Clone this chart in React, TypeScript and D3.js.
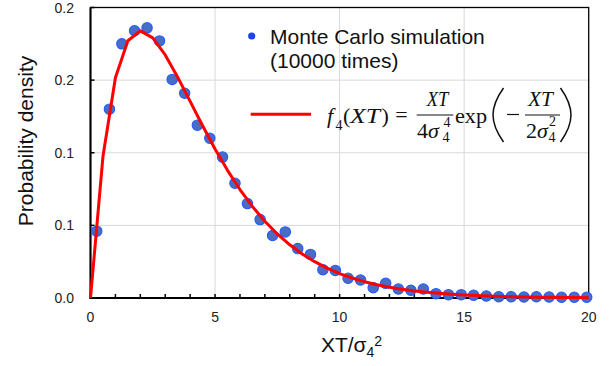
import React from "react";
import * as d3 from "d3";

const MC_X = [0.25, 0.76, 1.26, 1.77, 2.27, 2.77, 3.28, 3.78, 4.29, 4.79, 5.3, 5.8, 6.3, 6.81, 7.31, 7.82, 8.32, 8.83, 9.33, 9.83, 10.34, 10.84, 11.35, 11.85, 12.36, 12.86, 13.36, 13.87, 14.37, 14.88, 15.38, 15.89, 16.39, 16.89, 17.4, 17.9, 18.41, 18.91, 19.42, 19.92];
const MC_Y = [0.046, 0.13, 0.175, 0.184, 0.186, 0.177, 0.1505, 0.141, 0.119, 0.11, 0.097, 0.079, 0.065, 0.054, 0.043, 0.0455, 0.034, 0.03, 0.0195, 0.019, 0.0136, 0.0124, 0.0071, 0.0101, 0.0062, 0.0053, 0.0062, 0.003, 0.0023, 0.0023, 0.0019, 0.0014, 0.0009, 0.0009, 0.0007, 0.0009, 0.0007, 0.0005, 0.0005, 0.0005];

const FIT_X = [0, 0.5, 1, 1.5, 2, 2.5, 3, 3.5, 4, 4.5, 5, 5.5, 6, 6.5, 7, 7.5, 8, 8.5, 9, 9.5, 10, 10.5, 11, 11.5, 12, 12.5, 13, 13.5, 14, 14.5, 15, 15.5, 16, 16.5, 17, 17.5, 18, 18.5, 19, 19.5, 20];
const FIT_Y = [0, 0.09735, 0.15163, 0.17714, 0.18394, 0.17906, 0.16735, 0.15205, 0.13534, 0.11858, 0.10261, 0.0879, 0.07468, 0.06301, 0.05285, 0.0441, 0.03663, 0.03031, 0.025, 0.02055, 0.01684, 0.01377, 0.01124, 0.00915, 0.00744, 0.00603, 0.00489, 0.00395, 0.00319, 0.00257, 0.00207, 0.00167, 0.00134, 0.00108, 0.00086, 0.00069, 0.00056, 0.00044, 0.00036, 0.00028, 0.00023];

const X_TICKS = [0, 5, 10, 15, 20];
const X_TICK_LABELS = ["0", "5", "10", "15", "20"];
const X_MINOR = d3.range(0, 21, 1);
const Y_TICKS = [0, 0.05, 0.1, 0.15, 0.2];
const Y_TICK_LABELS = ["0.0", "0.1", "0.1", "0.2", "0.2"];

const SANS = "'Liberation Sans', Arial, sans-serif";
const SERIF = "'Liberation Serif', 'Times New Roman', serif";

export default function App() {
  const L = 90.5, R = 588.7, T = 7.5, B = 298;
  const x = d3.scaleLinear().domain([0, 20]).range([L, R]);
  const y = d3.scaleLinear().domain([0, 0.2]).range([B, T]);
  const line = d3.line<number>().x((_, i) => x(FIT_X[i])).y((d) => y(d));

  return (
    <svg width={615} height={366} style={{ position: "absolute", left: 0, top: 0, background: "#fff" }}>
      {/* gridlines */}
      {Y_TICKS.slice(1, -1).map((t) => (
        <line key={"gy" + t} x1={L} x2={R} y1={y(t)} y2={y(t)} stroke="#d9d9d9" strokeWidth={1} />
      ))}
      {X_TICKS.slice(1, -1).map((t) => (
        <line key={"gx" + t} x1={x(t)} x2={x(t)} y1={T} y2={B} stroke="#d9d9d9" strokeWidth={1} />
      ))}
      {/* frame */}
      <rect x={L} y={T} width={R - L} height={B - T} fill="none" stroke="#000" strokeWidth={1.3} />
      <line x1={L} x2={L} y1={T} y2={B + 1} stroke="#000" strokeWidth={2} />
      <line x1={L - 1} x2={R} y1={B} y2={B} stroke="#000" strokeWidth={2} />
      {/* ticks */}
      {X_MINOR.map((t) => (
        <line key={"tx" + t} x1={x(t)} x2={x(t)} y1={B} y2={B - 4} stroke="#000" strokeWidth={1.5} />
      ))}
      {Y_TICKS.map((t) => (
        <line key={"ty" + t} x1={L} x2={L + 4} y1={y(t)} y2={y(t)} stroke="#000" strokeWidth={1.5} />
      ))}
      {/* tick labels */}
      {Y_TICKS.map((t, i) => (
        <text key={"ly" + t} x={74} y={y(t) + 5} textAnchor="end" fontFamily={SANS} fontSize={14} fill="#222">
          {Y_TICK_LABELS[i]}
        </text>
      ))}
      {X_TICKS.map((t, i) => (
        <text key={"lx" + t} x={x(t)} y={321.5} textAnchor="middle" fontFamily={SANS} fontSize={14} fill="#222">
          {X_TICK_LABELS[i]}
        </text>
      ))}
      {/* markers */}
      {MC_Y.map((v, i) => (
        <circle key={"m" + i} cx={x(MC_X[i])} cy={y(v)} r={5.2} fill="#4a6cc2" stroke="#1f5cff" strokeWidth={1.1} />
      ))}
      {/* fit line */}
      <path d={line(FIT_Y) || ""} fill="none" stroke="#ff0000" strokeWidth={3} strokeLinejoin="round" />
      {/* axis titles */}
      <text transform="translate(33,141) rotate(-90)" textAnchor="middle" fontFamily={SANS} fontSize={21} fill="#111">
        Probability density
      </text>
      <text x={351.5} y={351.7} textAnchor="middle" fontFamily={SANS} fontSize={21} fill="#111">
        XT/σ
        <tspan fontSize={14} dy={5}>4</tspan>
        <tspan fontSize={14} dy={-11}>2</tspan>
      </text>
      {/* legend */}
      <circle cx={251.7} cy={36} r={3.6} fill="#1a44f0" />
      <text x={270} y={44.3} fontFamily={SANS} fontSize={21} fill="#111">Monte Carlo simulation</text>
      <text x={270} y={68.3} fontFamily={SANS} fontSize={21} fill="#111">(10000 times)</text>
      <line x1={250.7} x2={311} y1={114.3} y2={114.3} stroke="#ff0000" strokeWidth={3} />
      {/* formula */}
      <g fontFamily={SERIF} fill="#111">
        <text x={327} y={123.3} fontSize={22} fontStyle="italic">f</text>
        <text x={335.5} y={129.5} fontSize={14}>4</text>
        <text x={343} y={123.3} fontSize={22}>(</text>
        <text x={350} y={123.3} fontSize={22} fontStyle="italic" textLength={30} lengthAdjust="spacingAndGlyphs">XT</text>
        <text x={381.5} y={123.3} fontSize={22}>)</text>
        <text x={401.5} y={122} fontSize={22} textAnchor="middle">=</text>
        {/* fraction 1 */}
        <text x={426.7} y={106} fontSize={22} fontStyle="italic" textLength={21.6} lengthAdjust="spacingAndGlyphs">XT</text>
        <line x1={416.7} x2={453.3} y1={115} y2={115} stroke="#111" strokeWidth={1.1} />
        <text x={417} y={138.3} fontSize={22}>4</text>
        <text x={428} y={138.3} fontSize={22} fontStyle="italic">σ</text>
        <text x={443.5} y={127} fontSize={14}>4</text>
        <text x={442.5} y={141.5} fontSize={14}>4</text>
        <text x={455} y={123.3} fontSize={22} textLength={32} lengthAdjust="spacingAndGlyphs">exp</text>
        <path d="M503.5,88 C495,100 493,108 493,115 C493,122 495,130 503.5,142" fill="none" stroke="#111" strokeWidth={1.5} />
        <line x1={507} x2={519} y1={114.5} y2={114.5} stroke="#111" strokeWidth={1.2} />
        {/* fraction 2 */}
        <text x={528} y={106} fontSize={22} fontStyle="italic" textLength={25} lengthAdjust="spacingAndGlyphs">XT</text>
        <line x1={525} x2={560} y1={115} y2={115} stroke="#111" strokeWidth={1.1} />
        <text x={526} y={138.3} fontSize={22}>2</text>
        <text x={537} y={138.3} fontSize={22} fontStyle="italic">σ</text>
        <text x={549} y={126} fontSize={14}>2</text>
        <text x={548.5} y={141.5} fontSize={14}>4</text>
        <path d="M560.5,88 C569,100 571,108 571,115 C571,122 569,130 560.5,142" fill="none" stroke="#111" strokeWidth={1.5} />
      </g>
    </svg>
  );
}
